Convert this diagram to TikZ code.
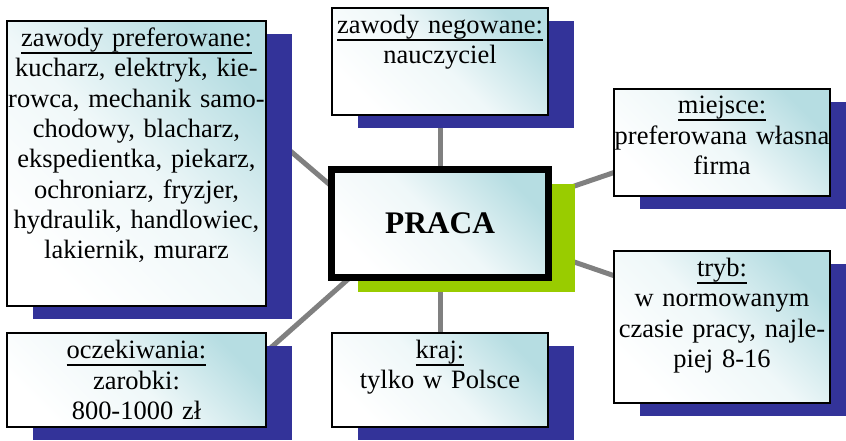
\documentclass[tikz,border=0pt]{standalone}
\usepackage{fontspec}
\setmainfont{Liberation Serif}
\usepackage{tikz}
\usetikzlibrary{positioning, shadows, backgrounds}

\definecolor{cardcyan}{RGB}{182,221,226}
\definecolor{shadowblue}{RGB}{51,51,153}
\definecolor{shadowgreen}{RGB}{153,204,0}
\definecolor{linkgray}{RGB}{128,128,128}

\newcommand{\boxhead}[1]{\setbox0\hbox{#1}\leavevmode\rlap{\rule[-6.2pt]{\wd0}{1.6pt}}\box0}

\begin{document}
\begin{tikzpicture}[
        x=0.03cm, y=-0.03cm,
        card/.style={rectangle, draw, line width=0.06cm, outer sep=0pt,
            top color=cardcyan, bottom color=white, middle color=cardcyan!22!white, shading angle=-45,
            inner xsep=0pt, inner ysep=0.18cm, align=center,
            font=\fontsize{22.6}{25.9}\selectfont,
            drop shadow={fill=shadowblue, opacity=1, shadow xshift=0.78cm, shadow yshift=-0.4cm}},
        wide/.style={minimum width=7.77cm, text width=7.77cm},
        narrow/.style={minimum width=6.48cm, text width=6.48cm},
        hub/.style={rectangle, draw, line width=0.21cm, outer sep=0pt,
            minimum width=6.51cm, minimum height=3.24cm,
            top color=cardcyan, bottom color=white, middle color=cardcyan!22!white, shading angle=-45,
            font=\fontsize{26.8}{30}\selectfont\bfseries,
            drop shadow={fill=shadowgreen, opacity=1, shadow xshift=0.8cm, shadow yshift=-0.42cm}},
        link/.style={draw=linkgray, line width=0.15cm}
        ]
        \useasboundingbox (0,0) rectangle (846,440);

        \node[hub] (praca) at (440,223.5) {PRACA};

        \node[card, wide, minimum height=8.55cm, text depth=7.58cm, left=1.965cm of praca, yshift=1.8cm] (pref)
            {\boxhead{zawody preferowane:}\\ kucharz, elektryk, kie-\\ rowca, mechanik samo-\\ chodowy, blacharz,\\
             ekspedientka, piekarz,\\ ochroniarz, fryzjer,\\ hydraulik, handlowiec,\\ lakiernik, murarz};
        \node[card, wide, minimum height=2.82cm, below=0.81cm of pref] (ocz)
            {\boxhead{oczekiwania:}\\ zarobki:\\ 800-1000 zł};
        \node[card, narrow, minimum height=3.21cm, text depth=2.24cm, above=1.635cm of praca] (neg)
            {\boxhead{zawody negowane:}\\ nauczyciel};
        \node[card, narrow, minimum height=2.82cm, text depth=1.85cm, below=1.665cm of praca] (kraj)
            {\boxhead{kraj:}\\ tylko w Polsce};
        \node[card, narrow, minimum height=3.21cm, text depth=2.24cm, right=1.965cm of praca, yshift=2.43cm] (miej)
            {\boxhead{miejsce:}\\ preferowana własna\\ firma};
        \node[card, narrow, minimum height=4.56cm, text depth=3.59cm, below=1.65cm of miej] (tryb)
            {\boxhead{tryb:}\\ w normowanym\\ czasie pracy, najle-\\ piej 8-16};

        % connectors behind the boxes
        \begin{scope}[on background layer]
            \draw[link] ([yshift=1cm]pref.east) -- ([yshift=-0.5cm]praca.north west);
            \draw[link] (neg) -- (praca);
            \draw[link] (praca) -- (kraj);
            \draw[link] ([yshift=0.86cm]praca.east) -- ([yshift=-0.9cm]miej.west);
            \draw[link] ([yshift=-0.89cm]praca.east) -- ([yshift=1.54cm]tryb.west);
            \draw[link] ([xshift=0.555cm]praca.south west) -- ([yshift=0.84cm]ocz.east);
        \end{scope}
\end{tikzpicture}
\end{document}
